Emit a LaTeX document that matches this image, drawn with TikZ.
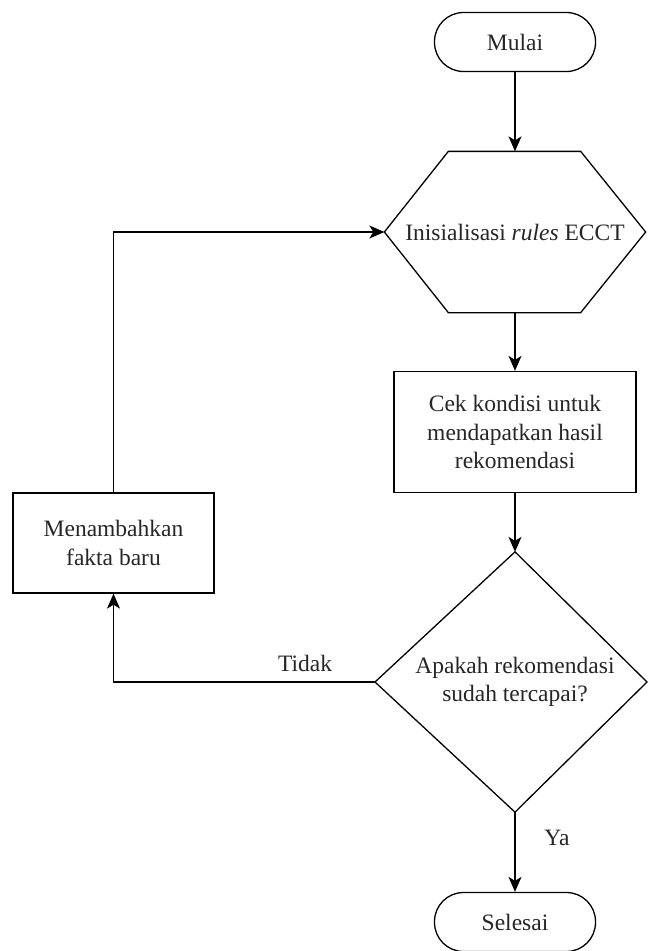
\documentclass[tikz,border=0pt]{standalone}
\usepackage{fontspec}
\setmainfont{Liberation Serif}
\usetikzlibrary{arrows.meta,calc}
\begin{document}
\begin{tikzpicture}[x=1pt,y=-1pt,
  line width=1.3pt,
  every node/.style={font=\fontsize{23.5}{28.5}\selectfont, text=black!85, align=center, inner sep=0pt},
  term/.style={draw, rounded corners=29pt, minimum width=161pt, minimum height=59pt},
  arr/.style={-{Stealth[length=15pt,width=13pt,inset=4pt]}}
]
\useasboundingbox (0,0) rectangle (648,951);

\node[term] (mulai) at (515,42) {Mulai};
\node[minimum width=260pt, minimum height=160pt] (hex) at (515,232) {Inisialisasi \textit{rules} ECCT};
\draw (hex.west) -- ($(hex.north west)+(64,0)$) -- ($(hex.north east)+(-65,0)$) -- (hex.east)
  -- ($(hex.south east)+(-65,0)$) -- ($(hex.south west)+(64,0)$) -- cycle;
\node[draw, minimum width=242pt, minimum height=121pt] (cek) at (515,432) {Cek kondisi untuk\\mendapatkan hasil\\rekomendasi};
\node[minimum width=272pt, minimum height=259pt] (dec) at (515,682) {Apakah rekomendasi\\sudah tercapai?};
\coordinate (decW) at ($(dec.center)+(-140,0)$);
\coordinate (decE) at ($(dec.center)+(132,0)$);
\draw (decW) -- (dec.north) -- (decE) -- (dec.south) -- cycle;
\node[draw, minimum width=201pt, minimum height=100pt] (tambah) at (113.5,543) {Menambahkan\\fakta baru};
\node[term] (selesai) at (515,922) {Selesai};

\draw[arr] (mulai) -- (hex.north);
\draw[arr] (hex.south) -- (cek.north);
\draw[arr] (cek.south) -- (dec.north);
\draw[arr] (dec.south) -- (selesai.north);
\node (ya) at (557,838) {Ya};
\draw[arr] (decW) -| (tambah.south);
\node (tidak) at (305,663) {Tidak};
\draw[arr] (tambah.north) |- (hex.west);
\end{tikzpicture}
\end{document}
